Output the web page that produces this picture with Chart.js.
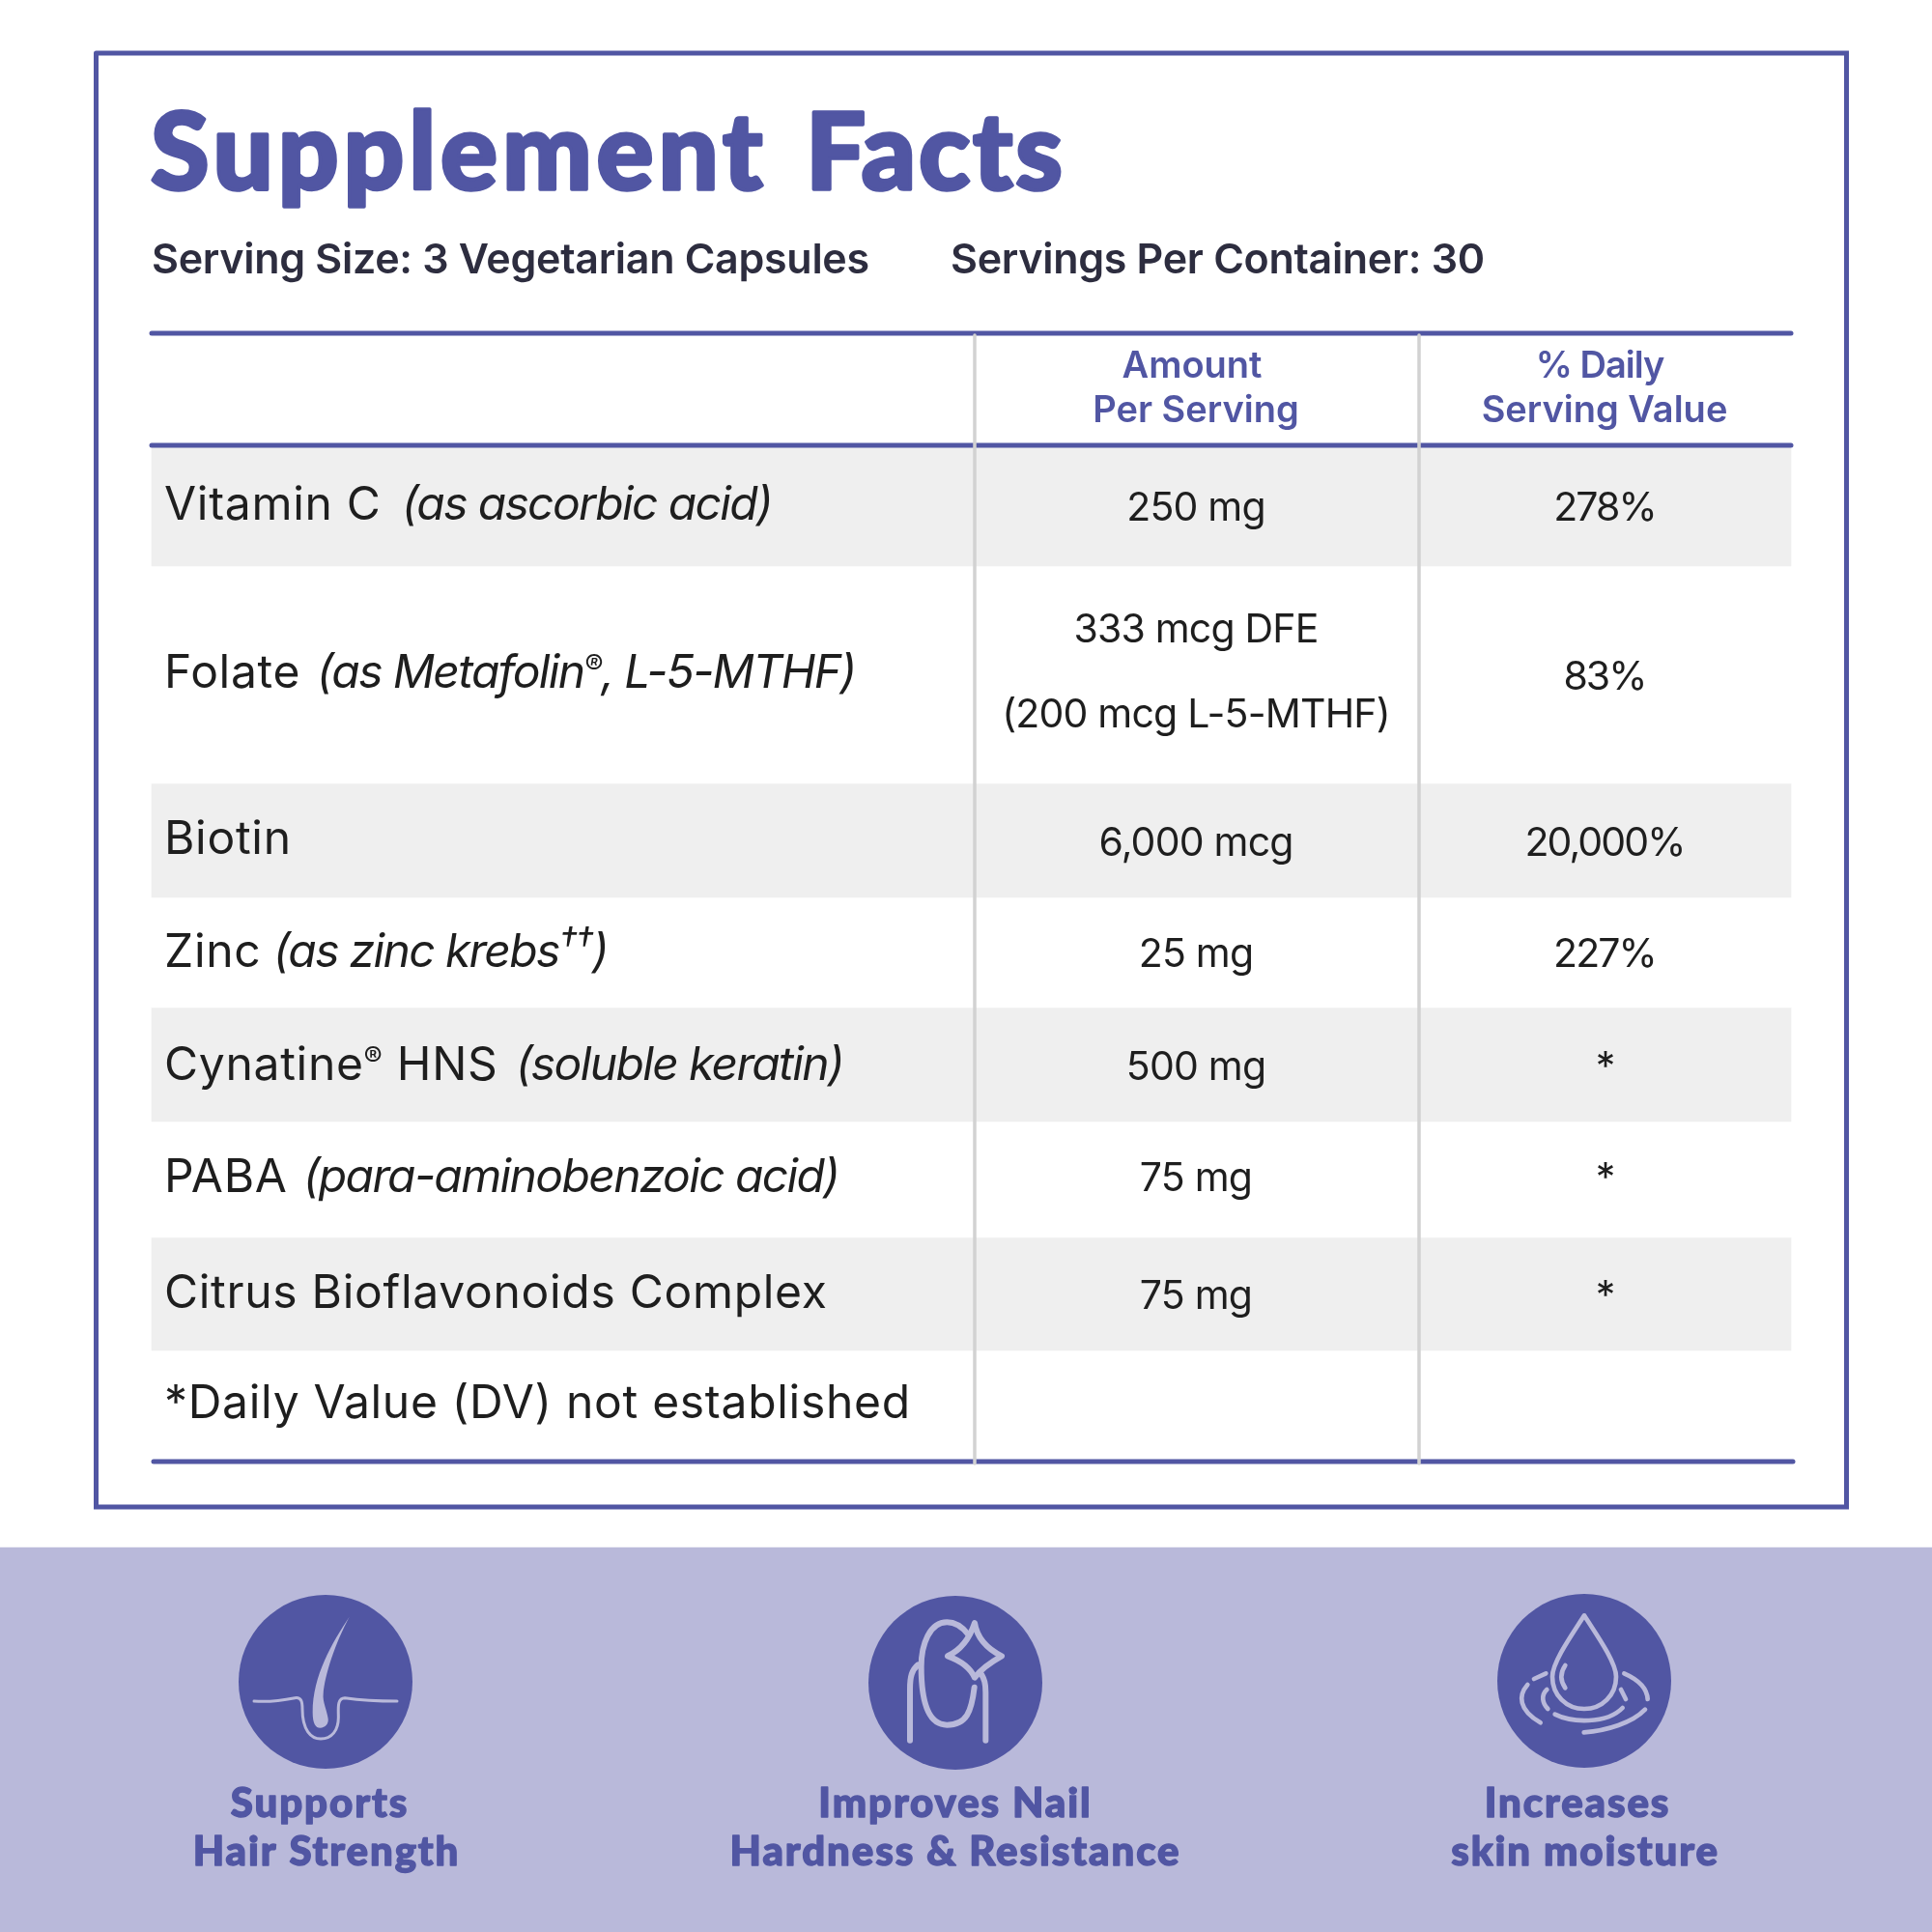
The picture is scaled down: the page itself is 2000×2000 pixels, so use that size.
<!DOCTYPE html>
<html>
<head>
<meta charset="utf-8">
<title>Supplement Facts</title>
<script src="https://cdn.jsdelivr.net/npm/chart.js@4"></script>
<style>
  html, body { margin: 0; padding: 0; background: #fff; }
  canvas { display: block; }
</style>
</head>
<body>
<canvas id="factsChart" width="2000" height="2000"></canvas>
<script>
// table content
const nutrients = ['Vitamin C', 'Folate', 'Biotin', 'Zinc', 'Cynatine', 'PABA', 'Citrus Bioflavonoids Complex'];
const forms = ['(as ascorbic acid)', '(as Metafolin®, L-5-MTHF)', '', '(as zinc krebs††)', '(soluble keratin)', '(para-aminobenzoic acid)', ''];
const amounts = ['250 mg', '333 mcg DFE|(200 mcg L-5-MTHF)', '6,000 mcg', '25 mg', '500 mg', '75 mg', '75 mg'];
const dailyValues = ['278%', '83%', '20,000%', '227%', '*', '*', '*'];
const footnote = '*Daily Value (DV) not established';
const benefits = ['Supports|Hair Strength', 'Improves Nail|Hardness & Resistance', 'Increases|skin moisture'];

// layout, in page pixels
const rowEdges = [463, 586, 811, 929, 1043, 1161, 1281, 1398];
const nameY = [538, 712, 884, 1001, 1118, 1234, 1354];
const formX = [416, 328, 0, 283, 534, 314, 0];
const valueY = [539, 0, 886, 1001, 1118, 1233, 1355];
const starY = [0, 0, 0, 0, 1118, 1233, 1355];
const columns = [1238, 1661];
const benefitX = [[331, 338], [989, 989], [1633, 1641]];
const iconCentres = [[337, 1741], [989, 1742], [1640, 1740]];

const PURPLE = '#5156a3';
const LILAC = '#b9b9da';

const iconPaths = [
  [
    'M74,-202 C20,-120 -40,-20 -40,95 C-40,130 -30,143 -17,143 C0,143 10,130 8,115 C5,90 -10,60 -7,38 C-3,-20 30,-120 74,-202 Z'
  ],
  [
    'M60,-186 Q70,-120 144,-83 Q85,-50 60,-16 Q40,-60 -24,-83 Q35,-110 60,-186 Z',
    'M39,-151 C20,-175 0,-188 -26,-188 C-80,-188 -106,-120 -106,-50 C-106,60 -85,131 -26,131 C35,131 50,90 59,14',
    'M-116,-56 C-135,-40 -141,-20 -141,20 L-141,179',
    'M81,-26 C90,-10 94,0 94,30 L94,179'
  ],
  [
    'M0,-203 C30,-155 99,-60 99,-13 C99,45 55,87 0,87 C-55,87 -99,45 -99,-13 C-99,-60 -30,-155 0,-203 Z',
    'M-59,-48 Q-83,-13 -59,22',
    'M-156,-6 L-119,-23',
    'M-176,12 C-205,45 -205,90 -136,130',
    'M-116,27 C-135,45 -130,70 -113,87',
    'M-91,104 C-40,130 70,135 119,84',
    'M-1,160 C70,155 150,130 189,89',
    'M124,-23 C165,-5 195,20 197,57',
    'M114,27 L129,57'
  ]
];
const hairLine = 'M-222,60 C-170,64 -125,56 -95,50 C-75,47 -72,62 -72,85 C-72,150 -45,177 -15,177 C20,177 40,150 40,110 C40,85 35,50 60,50 C95,55 130,60 222,60';

const bandDatasets = rowEdges.slice(0, -1).map((top, i) => ({
  type: 'bar',
  data: [{ x: 1005.5, y: [top, rowEdges[i + 1]] }],
  backgroundColor: i % 2 === 0 ? '#efefef' : '#ffffff',
  barThickness: 1697,
  grouped: false,
  order: 5
}));

function rule(points, color, width, order) {
  return {
    type: 'line',
    data: points.map(([x, y]) => ({ x, y })),
    borderColor: color,
    borderWidth: width,
    borderCapStyle: 'round',
    borderJoinStyle: 'miter',
    pointRadius: 0,
    tension: 0,
    order
  };
}

function drawText(ctx, text, x, y, font, color, align, spacing, outline) {
  ctx.font = font;
  ctx.fillStyle = color;
  ctx.textAlign = align || 'left';
  ctx.textBaseline = 'alphabetic';
  ctx.letterSpacing = (spacing || 0) + 'px';
  ctx.fillText(text, x, y);
  if (outline) {
    ctx.strokeStyle = color;
    ctx.lineWidth = outline;
    ctx.lineJoin = 'round';
    ctx.strokeText(text, x, y);
  }
}

// draws text whose ® and † glyphs sit as small raised marks
function drawRich(ctx, text, x, y, size, style, color, spacing) {
  const parts = text.split(/([®†]+)/).filter(Boolean);
  let cursor = x;
  parts.forEach(part => {
    const small = /[®†]/.test(part);
    const px = small ? size * (part[0] === '®' ? 0.6 : 0.8) : size;
    const font = style + ' 400 ' + px + 'px Inter';
    drawText(ctx, part, cursor, small ? y - size * 0.3 : y, font, color, 'left', spacing);
    cursor += ctx.measureText(part).width;
  });
  return cursor;
}

const tablePlugin = {
  id: 'tableText',
  afterDatasetsDraw(chart) {
    const { ctx, scales: { x, y } } = chart;
    const px = v => x.getPixelForValue(v);
    const py = v => y.getPixelForValue(v);
    ctx.save();

    drawText(ctx, 'Supplement', px(156), py(196), '900 110px Lato', PURPLE, 'left', 4.9, 3.5);
    drawText(ctx, 'Facts', px(834), py(196), '900 110px Lato', PURPLE, 'left', 2.8, 3.5);
    const subFont = '600 43px Inter';
    drawText(ctx, 'Serving Size: 3 Vegetarian Capsules', px(157), py(283), subFont, '#2d2d3f', 'left', -0.3);
    drawText(ctx, 'Servings Per Container: 30', px(984), py(283), subFont, '#2d2d3f', 'left', -0.3);

    const headFont = '600 38px Inter';
    drawText(ctx, 'Amount', px(1234), py(391), headFont, PURPLE, 'center');
    drawText(ctx, 'Per Serving', px(1238), py(437), headFont, PURPLE, 'center');
    drawText(ctx, '% Daily', px(1656), py(391), headFont, PURPLE, 'center', -1);
    drawText(ctx, 'Serving Value', px(1661), py(437), headFont, PURPLE, 'center');

    const nameSize = 48;
    const nameGap = 0.7;
    const formGap = -1.65;
    const valueFont = '400 41px Inter';
    const amountGap = -0.8;
    const dailyGap = -1.9;
    nutrients.forEach((name, i) => {
      if (name === 'Cynatine') {
        const end = drawRich(ctx, name + '®', px(170), py(nameY[i]), nameSize, 'normal', '#1e1e1e', nameGap);
        drawRich(ctx, ' HNS', end, py(nameY[i]), nameSize, 'normal', '#1e1e1e', nameGap);
      } else {
        drawRich(ctx, name, px(170), py(nameY[i]), nameSize, 'normal', '#1e1e1e', nameGap);
      }
      if (forms[i]) drawRich(ctx, forms[i], px(formX[i]), py(nameY[i]), nameSize, 'italic', '#1e1e1e', formGap);

      const lines = amounts[i].split('|');
      if (lines.length === 2) {
        drawText(ctx, lines[0], px(columns[0]), py(665), valueFont, '#1e1e1e', 'center', amountGap);
        drawText(ctx, lines[1], px(columns[0]), py(753), valueFont, '#1e1e1e', 'center', amountGap);
      } else {
        drawText(ctx, lines[0], px(columns[0]), py(valueY[i]), valueFont, '#1e1e1e', 'center', amountGap);
      }
      const dvY = i === 1 ? 714 : (dailyValues[i] === '*' ? starY[i] : valueY[i]);
      drawText(ctx, dailyValues[i], px(columns[1]), py(dvY), valueFont, '#1e1e1e', 'center', dailyGap);
    });
    drawRich(ctx, footnote, px(170), py(1468), nameSize, 'normal', '#1e1e1e', nameGap);

    benefits.forEach((label, i) => {
      label.split('|').forEach((line, j) => {
        drawText(ctx, line, px(benefitX[i][j]), py(j === 0 ? 1881 : 1931), '900 42px Lato', PURPLE, 'center', 1.9, 1.4);
      });
    });

    // icons sit on top of the circle points
    ctx.strokeStyle = LILAC;
    ctx.fillStyle = LILAC;
    ctx.lineCap = 'round';
    ctx.lineJoin = 'round';
    iconCentres.forEach(([cx, cy], i) => {
      ctx.save();
      ctx.translate(px(cx), py(cy));
      ctx.scale(1 / 3, 1 / 3);
      ctx.lineWidth = i === 1 ? 18 : 14;
      if (i === 0) {
        ctx.fill(new Path2D(iconPaths[0][0]));
        ctx.lineWidth = 9;
        ctx.stroke(new Path2D(hairLine));
      } else {
        iconPaths[i].forEach(d => ctx.stroke(new Path2D(d)));
      }
      ctx.restore();
    });
    ctx.restore();
  }
};

new Chart(document.getElementById('factsChart'), {
  data: {
    datasets: [
      ...bandDatasets,
      {
        type: 'bar',
        data: [{ x: 1000, y: [1602, 2000] }],
        backgroundColor: LILAC,
        barThickness: 2000,
        grouped: false,
        order: 5
      },
      rule([[99.5, 55], [1911.5, 55], [1911.5, 1560], [99.5, 1560], [99.5, 55]], PURPLE, 5, 4),
      rule([[157, 345], [1854, 345]], PURPLE, 5, 3),
      rule([[157, 461], [1854, 461]], PURPLE, 5, 3),
      rule([[159, 1513], [1856, 1513]], PURPLE, 5, 3),
      rule([[1009, 347], [1009, 1515]], '#d2d2d2', 3.5, 2),
      rule([[1469, 347], [1469, 1515]], '#d2d2d2', 3.5, 2),
      {
        type: 'scatter',
        data: iconCentres.map(([x, y]) => ({ x, y })),
        backgroundColor: PURPLE,
        borderWidth: 0,
        pointRadius: 90,
        pointHoverRadius: 90,
        order: 1
      }
    ]
  },
  options: {
    responsive: false,
    animation: false,
    devicePixelRatio: 1,
    layout: { padding: 0, autoPadding: false },
    plugins: { legend: { display: false }, tooltip: { enabled: false } },
    scales: {
      x: { type: 'linear', min: 0, max: 2000, display: false, offset: false },
      y: { type: 'linear', min: 0, max: 2000, reverse: true, display: false, offset: false }
    }
  },
  plugins: [tablePlugin]
});
</script>
</body>
</html>
